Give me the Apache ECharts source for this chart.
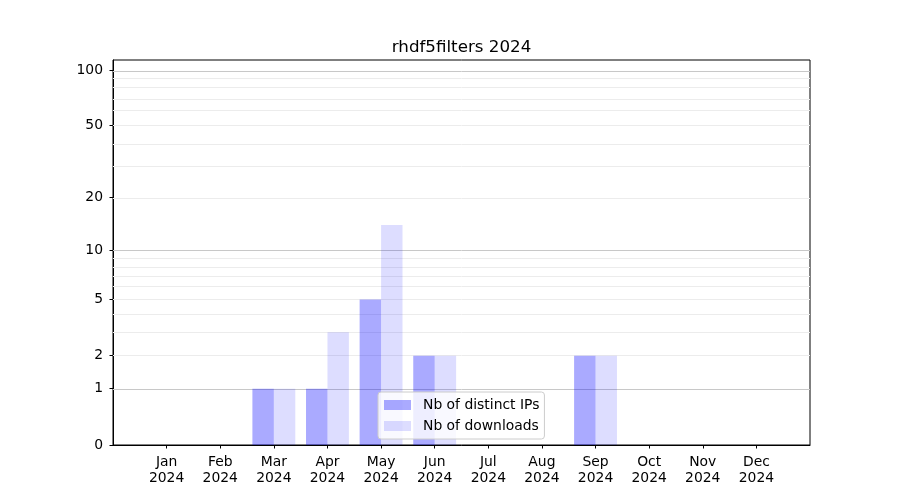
<!DOCTYPE html>
<html>
<head>
<meta charset="utf-8">
<script src="https://cdn.jsdelivr.net/npm/echarts@6/dist/echarts.min.js"></script>
<style>html,body{margin:0;padding:0;background:#fff}#c{width:900px;height:500px}</style>
</head>
<body>
<div id="c"></div>
<script>
var months = ['Jan', 'Feb', 'Mar', 'Apr', 'May', 'Jun', 'Jul', 'Aug', 'Sep', 'Oct', 'Nov', 'Dec'];
var yearLabel = '2024';
var ipsValues = [0, 0, 1, 1, 5, 2, 0, 0, 2, 0, 0, 0];
var downloadsValues = [0, 0, 1, 3, 14, 2, 0, 0, 2, 0, 0, 0];
var yTicks = [0, 1, 2, 5, 10, 20, 50, 100];
var majorGrid = [1, 10, 100];
var minorGrid = [2, 3, 4, 5, 6, 7, 8, 9, 20, 30, 40, 50, 60, 70, 80, 90];
var yMaxValue = 113.2;

function tr(v) { return Math.log10(1 + v); }
var FONT = 'DejaVu Sans';

var chart = echarts.init(document.getElementById('c'), null, {renderer: 'canvas'});
var gridLines = majorGrid.map(function (v) {
  return {yAxis: tr(v), lineStyle: {color: '#c8c8c8', width: 1, type: 'solid'}};
}).concat(minorGrid.map(function (v) {
  return {yAxis: tr(v), lineStyle: {color: '#ececec', width: 1, type: 'solid'}};
}));

chart.setOption({
  animation: false,
  title: {
    text: 'rhdf5filters 2024',
    left: 456.5, textAlign: 'center', top: 34,
    textStyle: {fontFamily: FONT, fontSize: 16.7, fontWeight: 'normal', color: '#000'}
  },
  grid: {left: 113, right: 90, top: 60, bottom: 55, show: true, borderColor: '#000', borderWidth: 1},
  legend: {
    orient: 'vertical', left: 378, top: 392,
    data: ['Nb of distinct IPs', 'Nb of downloads'],
    icon: 'rect', itemWidth: 27, itemHeight: 10, itemGap: 7,
    padding: [6, 5, 6, 6],
    backgroundColor: 'rgba(255,255,255,0.8)', borderColor: '#cccccc', borderWidth: 1, borderRadius: 3,
    textStyle: {fontFamily: FONT, fontSize: 13.9, color: '#000', lineHeight: 14, padding: [0, 0, 0, 7]}
  },
  xAxis: {
    type: 'value', min: -1, max: 12,
    axisLine: {show: true, onZero: false, lineStyle: {color: '#000'}},
    axisTick: {show: true, length: 3.5, customValues: months.map(function (m, i) { return i; }), lineStyle: {color: '#000'}},
    axisLabel: {
      customValues: months.map(function (m, i) { return i; }),
      formatter: function (v) { return months[Math.round(v)] + '\n' + yearLabel; },
      fontFamily: FONT, fontSize: 13.9, color: '#000', lineHeight: 16, margin: 9
    },
    splitLine: {show: false}
  },
  yAxis: {
    type: 'value', min: 0, max: tr(yMaxValue),
    axisLine: {show: true, onZero: false, lineStyle: {color: '#000'}},
    axisTick: {show: true, length: 3.5, customValues: yTicks.map(tr), lineStyle: {color: '#000'}},
    axisLabel: {
      customValues: yTicks.map(tr),
      formatter: function (v) {
        var best = 0, d = 1e9;
        yTicks.forEach(function (t) { var dd = Math.abs(tr(t) - v); if (dd < d) { d = dd; best = t; } });
        return String(best);
      },
      fontFamily: FONT, fontSize: 13.9, color: '#000', margin: 10
    },
    splitLine: {show: false}
  },
  series: [
    {
      name: 'Nb of distinct IPs', type: 'bar', barWidth: 21.45, barGap: '0%', z: 2,
      itemStyle: {color: 'rgba(0,0,255,0.333)'},
      data: ipsValues.map(function (v, i) { return [i, tr(v)]; }),
      markLine: {silent: true, symbol: ['none', 'none'], label: {show: false}, z: 1, animation: false, data: gridLines}
    },
    {
      name: 'Nb of downloads', type: 'bar', barWidth: 21.45, barGap: '0%', z: 2,
      itemStyle: {color: 'rgba(0,0,255,0.133)'},
      data: downloadsValues.map(function (v, i) { return [i, tr(v)]; })
    }
  ]
});
</script>
</body>
</html>
